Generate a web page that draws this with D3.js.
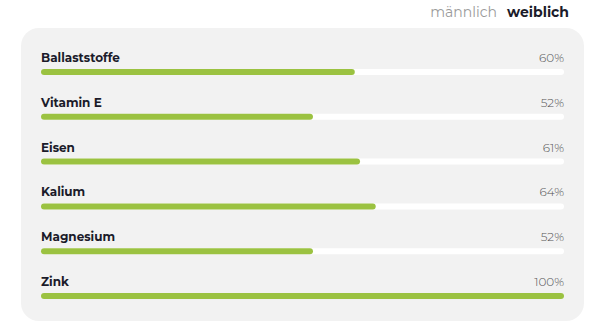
<!DOCTYPE html>
<html>
<head>
<meta charset="utf-8">
<script src="https://cdn.jsdelivr.net/npm/d3@7"></script>
<style>
    body { margin: 0; background: #fff; font-family: 'Montserrat', 'Open Sans', sans-serif; }
</style>
</head>
<body>
<div class="chart"></div>
<script>
    /* daten */
    const nutrients = ['Ballaststoffe', 'Vitamin E', 'Eisen', 'Kalium', 'Magnesium', 'Zink'];
    const percentages = [60, 52, 61, 64, 52, 100];
    const legendLabels = ['männlich', 'weiblich'];

    const width = 604;
    const height = 326;

    const svg = d3.select('.chart').append('svg')
        .attr('width', width)
        .attr('height', height);

    /* legende oben rechts */
    svg.append('text').text(legendLabels[0])
        .attr('x', 497).attr('y', 17)
        .attr('text-anchor', 'end')
        .attr('fill', '#9a9a9a')
        .style('font-size', '14px');
    svg.append('text').text(legendLabels[1])
        .attr('x', 569).attr('y', 17)
        .attr('text-anchor', 'end')
        .attr('fill', '#1b1b2a')
        .style('font-size', '14px')
        .style('font-weight', 700);

    /* hintergrund */
    svg.append('rect')
        .attr('x', 21).attr('y', 28)
        .attr('width', 563).attr('height', 293)
        .attr('rx', 18).attr('ry', 18)
        .attr('fill', '#f2f2f2');

    const scaleX = d3.scaleLinear().domain([0, 100]).range([41, 564]);
    const scaleY = d3.scalePoint().domain(nutrients).range([72, 296]);

    const rows = svg.selectAll('.row').data(nutrients)
        .enter().append('g')
        .attr('class', 'row')
        .attr('transform', function (d) {
            return 'translate(0,' + scaleY(d) + ')';
        });

    rows.append('rect')
        .attr('x', scaleX(0)).attr('y', -3)
        .attr('width', scaleX(100) - scaleX(0)).attr('height', 6)
        .attr('rx', 3)
        .attr('fill', '#ffffff');

    rows.append('rect')
        .attr('x', scaleX(0)).attr('y', -3)
        .attr('width', function (d, i) {
            return scaleX(percentages[i]) - scaleX(0);
        })
        .attr('height', 6)
        .attr('rx', 3)
        .attr('fill', '#9bc241');

    rows.append('text')
        .text(function (d) { return d; })
        .attr('x', 41).attr('y', -10)
        .attr('fill', '#1b1b2a')
        .style('font-size', '12px')
        .style('font-weight', 700);

    rows.append('text')
        .text(function (d, i) { return percentages[i] + '%'; })
        .attr('x', 564).attr('y', -10)
        .attr('text-anchor', 'end')
        .attr('fill', '#555555')
        .style('font-size', '12px')
        .style('font-weight', 300);
</script>
</body>
</html>
